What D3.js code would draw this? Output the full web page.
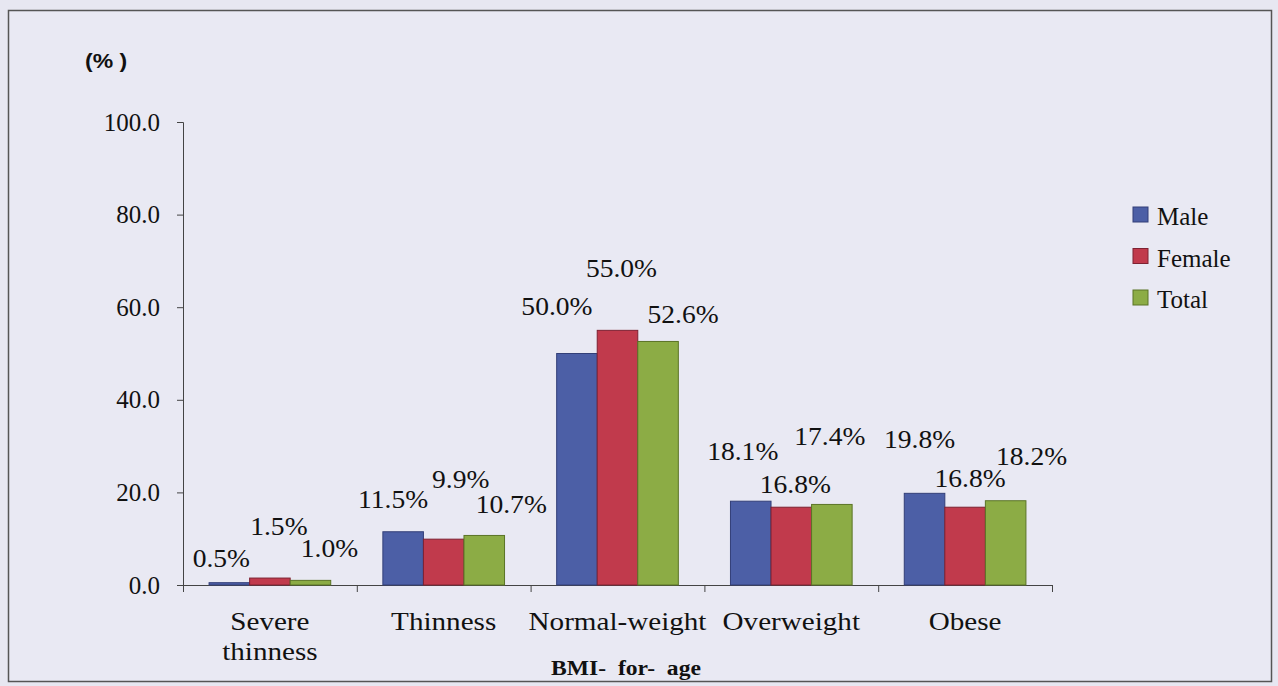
<!DOCTYPE html>
<html>
<head>
<meta charset="utf-8">
<script src="https://cdn.jsdelivr.net/npm/d3@7"></script>
<style>
  body { margin: 0; background: #e7e7f1; }
  svg { display: block; }
  text { font-family: 'Liberation Serif', 'Times New Roman', serif; }
</style>
</head>
<body>
<div id="container"></div>
<script>
var categories = ["Severe thinness", "Thinness", "Normal-weight", "Overweight", "Obese"];
var seriesNames = ["Male", "Female", "Total"];
var male   = [0.5, 11.5, 50.0, 18.1, 19.8];
var female = [1.5, 9.9, 55.0, 16.8, 16.8];
var total  = [1.0, 10.7, 52.6, 17.4, 18.2];
var yTicks = [0, 20, 40, 60, 80, 100];

// hand-placed label nudges [dx, px above bar top], like the original
var labelShift = {
  Male:   [[-8, 16], [-10, 24], [-20, 39], [-8, 41], [-5, 45]],
  Female: [[9, 43], [17, 51], [4, 53], [4, 14], [5, 20]],
  Total:  [[19, 23], [27, 22], [25, 18], [-2, 59], [26, 36]]
};

var colors = { Male: '#4c5fa6', Female: '#c13a4c', Total: '#8cac45' };
var strokes = { Male: '#333f78', Female: '#7e2232', Total: '#5b7426' };

var W = 1278, H = 686;
var margin = {top: 122, left: 183},
    width = 869,
    height = 463;

// the scanned chart is a little wider than its fonts: stretch text horizontally
function stretch(sel, f) {
    sel.each(function() {
        var len = this.getComputedTextLength();
        d3.select(this).attr("textLength", len * f).attr("lengthAdjust", "spacingAndGlyphs");
    });
}

var svg = d3.select("#container").append("svg")
    .attr("width", W).attr("height", H);

svg.append("rect")
    .attr("x", 8.5).attr("y", 10.5)
    .attr("width", 1263).attr("height", 671)
    .attr("fill", "#e9e9f3")
    .attr("stroke", "#555").attr("stroke-width", 1.5);

var g = svg.append("g")
    .attr("transform", "translate(" + margin.left + "," + margin.top + ")");

var x = d3.scaleBand()
    .domain(categories)
    .range([0, width])
    .paddingInner(0.3)
    .paddingOuter(0.15);

var xs = d3.scaleBand()
    .domain(seriesNames)
    .range([0, x.bandwidth()]);

var y = d3.scaleLinear()
    .domain([0, 100])
    .range([height, 0]);

var data = categories.map(function(c, i) {
    return {cat: c, i: i, vals: [
        {s: "Male", v: male[i]},
        {s: "Female", v: female[i]},
        {s: "Total", v: total[i]}
    ]};
});

// y axis
var yAxis = g.append("g")
    .call(d3.axisLeft(y).tickValues(yTicks).tickSize(6).tickPadding(17)
        .tickFormat(d3.format(".1f")));
yAxis.select(".domain").attr("stroke", "#444").attr("d", "M-6,0.5H0.5V" + height);
yAxis.selectAll(".tick line").attr("stroke", "#444");
yAxis.selectAll(".tick text")
    .attr("fill", "#111")
    .style("font-size", "25px")
    .style("font-family", "'Liberation Serif', serif");

// x axis with ticks at category boundaries
var step = x.step();
var bounds = d3.range(categories.length + 1).map(function(k) { return k * step; });
var xAxis = g.append("g").attr("transform", "translate(0," + height + ")");
xAxis.append("line")
    .attr("x1", 0).attr("x2", width)
    .attr("y1", 0.5).attr("y2", 0.5)
    .attr("stroke", "#444");
xAxis.selectAll(".bt")
    .data(bounds)
    .enter().append("line")
    .attr("class", "bt")
    .attr("x1", function(d) { return d + 0.5; })
    .attr("x2", function(d) { return d + 0.5; })
    .attr("y1", 0).attr("y2", 7)
    .attr("stroke", "#444");

var catLines = [];
categories.forEach(function(d) {
    var words = d === "Severe thinness" ? ["Severe", "thinness"] : [d];
    words.forEach(function(w, k) { catLines.push({cat: d, text: w, k: k}); });
});
xAxis.selectAll(".cat")
    .data(catLines)
    .enter().append("text")
    .attr("class", "cat")
    .attr("text-anchor", "middle")
    .attr("fill", "#111")
    .style("font-size", "26px")
    .attr("x", function(d) { return x(d.cat) + x.bandwidth() / 2; })
    .attr("y", function(d) { return 45 + d.k * 30; })
    .text(function(d) { return d.text; })
    .call(stretch, 1.12);

// bars
var groups = g.selectAll(".grp")
    .data(data)
    .enter().append("g")
    .attr("class", "grp")
    .attr("transform", function(d) { return "translate(" + x(d.cat) + ",0)"; });

groups.selectAll("rect")
    .data(function(d) { return d.vals; })
    .enter().append("rect")
    .attr("x", function(d) { return xs(d.s); })
    .attr("width", xs.bandwidth())
    .attr("y", function(d) { return y(d.v); })
    .attr("height", function(d) { return height - y(d.v); })
    .attr("fill", function(d) { return colors[d.s]; })
    .attr("stroke", function(d) { return strokes[d.s]; })
    .attr("stroke-width", 1);

groups.selectAll(".lbl")
    .data(function(d) { return d.vals.map(function(v) { return {s: v.s, v: v.v, i: d.i}; }); })
    .enter().append("text")
    .attr("class", "lbl")
    .attr("text-anchor", "middle")
    .attr("fill", "#111")
    .style("font-size", "26px")
    .attr("x", function(d) { return xs(d.s) + xs.bandwidth() / 2 + labelShift[d.s][d.i][0]; })
    .attr("y", function(d) { return y(d.v) - labelShift[d.s][d.i][1]; })
    .text(function(d) { return d3.format(".1f")(d.v) + "%"; })
    .call(stretch, 1.06);

// axis titles
svg.append("text")
    .attr("x", 85).attr("y", 68)
    .style("font-family", "'Liberation Sans', Arial, sans-serif")
    .style("font-weight", "bold").style("font-size", "20px")
    .attr("fill", "#111")
    .text("(% )")
    .call(stretch, 1.15);

svg.append("text")
    .attr("x", 626).attr("y", 675)
    .attr("text-anchor", "middle")
    .style("font-weight", "bold").style("font-size", "20px")
    .style("white-space", "pre")
    .attr("fill", "#111")
    .text("BMI-  for-  age")
    .call(stretch, 1.18);

// legend
var legend = svg.append("g").attr("transform", "translate(1133,207)");
var li = legend.selectAll(".li")
    .data(seriesNames)
    .enter().append("g")
    .attr("class", "li")
    .attr("transform", function(d, i) { return "translate(0," + (i * 41.5) + ")"; });
li.append("rect")
    .attr("width", 15).attr("height", 15)
    .attr("fill", function(d) { return colors[d]; })
    .attr("stroke", function(d) { return strokes[d]; });
li.append("text")
    .attr("x", 24).attr("y", 18)
    .style("font-size", "25px")
    .attr("fill", "#111")
    .text(function(d) { return d; });
</script>
</body>
</html>
